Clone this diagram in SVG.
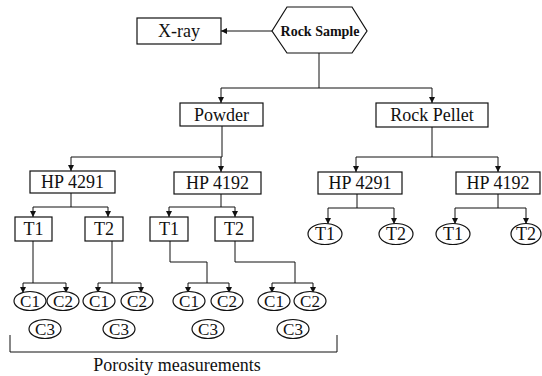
<svg xmlns="http://www.w3.org/2000/svg" width="542" height="376" viewBox="0 0 542 376">
<defs>
<marker id="ah" markerUnits="userSpaceOnUse" markerWidth="7" markerHeight="7" refX="6" refY="3" orient="auto">
<path d="M0,0 L6,3 L0,6 z" fill="#111"/>
</marker>
</defs>
<style>
.b{fill:#fff;stroke:#111;stroke-width:1.2}
.t{font-family:"Liberation Serif","Times New Roman",serif;font-size:18px;fill:#111;text-anchor:middle}
.c{font-family:"Liberation Serif","Times New Roman",serif;font-size:17px;fill:#111;text-anchor:middle}
.l{fill:none;stroke:#111;stroke-width:1}
.a{fill:none;stroke:#111;stroke-width:1;marker-end:url(#ah)}
</style>
<rect width="542" height="376" fill="#fff"/>
<g id="connectors">
<path class="a" d="M272,31 H221"/>
<path class="l" d="M319,53 V88 M221,88 H432"/>
<path class="a" d="M221,88 V103"/>
<path class="a" d="M432,88 V103"/>
<path class="l" d="M222,126 V157 M71,157 H222"/>
<path class="a" d="M71,157 V171"/>
<path class="a" d="M221,157 V172"/>
<path class="l" d="M432,127 V157 M356,157 H498"/>
<path class="a" d="M356,157 V172"/>
<path class="a" d="M498,157 V172"/>
<path class="l" d="M71,193 V207 M33,207 H108"/>
<path class="a" d="M33,207 V217"/>
<path class="a" d="M108,207 V217"/>
<path class="l" d="M221,194 V207 M169,207 H235"/>
<path class="a" d="M169,207 V217"/>
<path class="a" d="M235,207 V217"/>
<path class="l" d="M357,194 V208 M328,208 H394"/>
<path class="a" d="M328,208 V224"/>
<path class="a" d="M394,208 V224"/>
<path class="l" d="M498,194 V208 M455,208 H526"/>
<path class="a" d="M455,208 V224"/>
<path class="a" d="M526,208 V224"/>
<path class="l" d="M33,241 V283 M23,283 H66"/>
<path class="a" d="M23,283 V293"/>
<path class="a" d="M66,283 V293"/>
<path class="l" d="M112,241 V283 M98,283 H141"/>
<path class="a" d="M98,283 V293"/>
<path class="a" d="M141,283 V293"/>
<path class="l" d="M170,241 V262 H207 V283 M188,283 H229"/>
<path class="a" d="M188,283 V293"/>
<path class="a" d="M229,283 V293"/>
<path class="l" d="M235,241 V262 H295 V283 M272,283 H313"/>
<path class="a" d="M272,283 V293"/>
<path class="a" d="M313,283 V293"/>
<path class="l" d="M10,335 V352 H337 V335"/>
</g>
<g id="rock-sample">
<polygon class="b" points="272,31 287,7 352,7 367,31 352,53 287,53"/>
<text x="320" y="36" font-family="Liberation Serif, Times New Roman, serif" font-size="14" font-weight="bold" text-anchor="middle" fill="#111">Rock Sample</text>
</g>
<g id="xray"><rect class="b" x="137" y="18" width="84" height="26"/><text class="t" x="179" y="37">X-ray</text></g>
<g id="powder"><rect class="b" x="180" y="103" width="83" height="23"/><text class="t" x="221.5" y="121">Powder</text></g>
<g id="rock-pellet"><rect class="b" x="376" y="103" width="112" height="24"/><text class="t" x="432" y="121">Rock Pellet</text></g>
<g id="p-hp4291"><rect class="b" x="30" y="171" width="85" height="22"/><text class="t" x="72.5" y="188">HP 4291</text></g>
<g id="p-hp4192"><rect class="b" x="174" y="172" width="87" height="22"/><text class="t" x="217.5" y="189">HP 4192</text></g>
<g id="r-hp4291"><rect class="b" x="318" y="172" width="84" height="22"/><text class="t" x="360" y="189">HP 4291</text></g>
<g id="r-hp4192"><rect class="b" x="456" y="172" width="84" height="22"/><text class="t" x="498" y="189">HP 4192</text></g>
<g id="p1-t1"><rect class="b" x="15" y="217" width="37" height="24"/><text class="t" x="33.5" y="235">T1</text></g>
<g id="p1-t2"><rect class="b" x="85" y="217" width="38" height="24"/><text class="t" x="104" y="235">T2</text></g>
<g id="p2-t1"><rect class="b" x="150" y="217" width="38" height="24"/><text class="t" x="169" y="235">T1</text></g>
<g id="p2-t2"><rect class="b" x="215" y="217" width="38" height="24"/><text class="t" x="234" y="235">T2</text></g>
<g id="r1-t1"><ellipse class="b" cx="325" cy="234" rx="17" ry="10.5"/><text class="t" x="325" y="240">T1</text></g>
<g id="r1-t2"><ellipse class="b" cx="396" cy="234" rx="17" ry="10.5"/><text class="t" x="396" y="240">T2</text></g>
<g id="r2-t1"><ellipse class="b" cx="453" cy="234" rx="17" ry="10.5"/><text class="t" x="453" y="240">T1</text></g>
<g id="r2-t2"><ellipse class="b" cx="526" cy="234" rx="15" ry="10.5"/><text class="t" x="526" y="240">T2</text></g>
<g id="g1-c1"><ellipse class="b" cx="30" cy="301" rx="16" ry="9.5"/><text class="c" x="30" y="307">C1</text></g>
<g id="g1-c2"><ellipse class="b" cx="63" cy="301" rx="16" ry="9.5"/><text class="c" x="63" y="307">C2</text></g>
<g id="g1-c3"><ellipse class="b" cx="45" cy="329" rx="16" ry="9.5"/><text class="c" x="45" y="335">C3</text></g>
<g id="g2-c1"><ellipse class="b" cx="99" cy="301" rx="16" ry="9.5"/><text class="c" x="99" y="307">C1</text></g>
<g id="g2-c2"><ellipse class="b" cx="137" cy="301" rx="16" ry="9.5"/><text class="c" x="137" y="307">C2</text></g>
<g id="g2-c3"><ellipse class="b" cx="119" cy="329" rx="16" ry="9.5"/><text class="c" x="119" y="335">C3</text></g>
<g id="g3-c1"><ellipse class="b" cx="189" cy="301" rx="16" ry="9.5"/><text class="c" x="189" y="307">C1</text></g>
<g id="g3-c2"><ellipse class="b" cx="227" cy="301" rx="16" ry="9.5"/><text class="c" x="227" y="307">C2</text></g>
<g id="g3-c3"><ellipse class="b" cx="208" cy="329" rx="16" ry="9.5"/><text class="c" x="208" y="335">C3</text></g>
<g id="g4-c1"><ellipse class="b" cx="274" cy="301" rx="16" ry="9.5"/><text class="c" x="274" y="307">C1</text></g>
<g id="g4-c2"><ellipse class="b" cx="310" cy="301" rx="16" ry="9.5"/><text class="c" x="310" y="307">C2</text></g>
<g id="g4-c3"><ellipse class="b" cx="293" cy="329" rx="16" ry="9.5"/><text class="c" x="293" y="335">C3</text></g>
<g id="porosity"><text class="t" x="177" y="371">Porosity measurements</text></g>
</svg>
